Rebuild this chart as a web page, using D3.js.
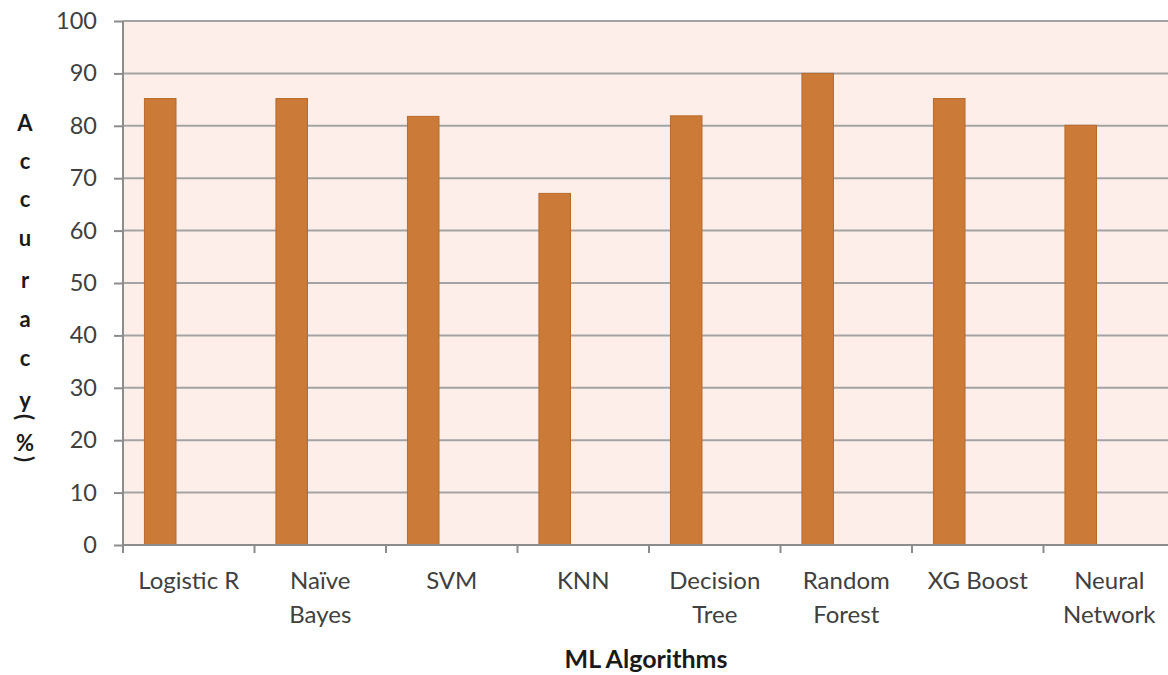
<!DOCTYPE html>
<html><head><meta charset="utf-8">
<script src="https://cdn.jsdelivr.net/npm/d3@7"></script>
<style>body{margin:0;background:#fff;} svg{display:block;}</style>
</head><body>
<svg id="c" width="1168" height="675"></svg>
<script>
const categories = [["Logistic R"],["Naïve","Bayes"],["SVM"],["KNN"],["Decision","Tree"],["Random","Forest"],["XG Boost"],["Neural","Network"]];
const accuracy = [85.2, 85.2, 81.8, 67.1, 81.9, 90.0, 85.2, 80.1];
const yTicks = [0,10,20,30,40,50,60,70,80,90,100];
const yTitleChars = ["A","c","c","u","r","a","c","y","(","%",")"];

(function(){
const svg = d3.select("#c");
const pLeft = 123, pTop = 21, pBottom = 545, bandW = 131.5;
const pRight = pLeft + bandW * categories.length;
const font = "Lato, 'Open Sans', sans-serif";

const x = d3.scaleBand().domain(d3.range(categories.length)).range([pLeft, pRight]).paddingInner(0).paddingOuter(0);
const y = d3.scaleLinear().domain([0,100]).range([pBottom, pTop]);

svg.append("rect").attr("x", pLeft).attr("y", pTop).attr("width", pRight-pLeft).attr("height", pBottom-pTop).attr("fill", "#FDEEEA");

svg.append("g").selectAll("line").data(yTicks.filter(d=>d>0)).join("line")
  .attr("x1", pLeft).attr("x2", pRight).attr("y1", d=>y(d)).attr("y2", d=>y(d))
  .attr("stroke", "#A3A3A3").attr("stroke-width", 2);

svg.append("g").selectAll("rect").data(accuracy).join("rect")
  .attr("x", (d,i)=>x(i) + bandW*0.163)
  .attr("width", bandW*0.24)
  .attr("y", d=>y(d))
  .attr("height", d=>pBottom - y(d))
  .attr("fill", "#CB7A38").attr("stroke", "#B86A2C").attr("stroke-width", 1);

const yAxis = d3.axisLeft(y).tickValues(yTicks).tickSize(9).tickPadding(10);
const gy = svg.append("g").attr("transform", `translate(${pLeft},0)`).call(yAxis);
gy.select(".domain").attr("stroke", "#8C8C8C").attr("stroke-width", 2).attr("d", `M0,${pTop}V${pBottom+8}`);
gy.selectAll(".tick line").attr("stroke", "#8C8C8C").attr("stroke-width", 2);
gy.selectAll(".tick text").attr("font-family", font).attr("font-size", 23.5).attr("fill", "#404040").attr("x", -26);

const xAxis = d3.axisBottom(x).tickSize(0).tickFormat("");
const gx = svg.append("g").attr("transform", `translate(0,${pBottom})`).call(xAxis);
gx.select(".domain").attr("stroke", "#8C8C8C").attr("stroke-width", 2).attr("d", `M${pLeft},0H${pRight}`);
gx.selectAll(".tick").remove();
gx.selectAll(".sep").data(d3.range(categories.length+1)).join("line")
  .attr("x1", i=>pLeft + i*bandW).attr("x2", i=>pLeft + i*bandW)
  .attr("y1", 0).attr("y2", 8).attr("stroke", "#8C8C8C").attr("stroke-width", 2);

const lab = svg.append("g").selectAll("text").data(categories).join("text")
  .attr("x", (d,i)=>x(i) + bandW/2).attr("y", 589)
  .attr("text-anchor", "middle").attr("font-family", font).attr("font-size", 24).attr("fill", "#404040");
lab.selectAll("tspan").data(d=>d).join("tspan")
  .attr("x", function(){ return d3.select(this.parentNode).attr("x"); })
  .attr("dy", (d,i)=> i===0 ? 0 : 34).text(d=>d);

svg.append("text").attr("x", 646).attr("y", 668).attr("text-anchor","middle")
  .attr("font-family", font).attr("font-size", 25).attr("font-weight", "bold").attr("fill", "#1a1a1a").text("ML Algorithms");

const yPos = [122,160,198,237,279,318,357,399,417,442,459];
svg.append("g").selectAll("text").data(yTitleChars).join("text")
  .attr("text-anchor","middle").attr("dominant-baseline","central")
  .attr("font-family", font).attr("font-size", 22).attr("font-weight", "bold").attr("fill", "#1a1a1a")
  .attr("transform", (d,i)=> `translate(25,${yPos[i]})` + ((d==="("||d===")") ? " rotate(90)" : ""))
  .text(d=>d);
})();
</script>
</body></html>
